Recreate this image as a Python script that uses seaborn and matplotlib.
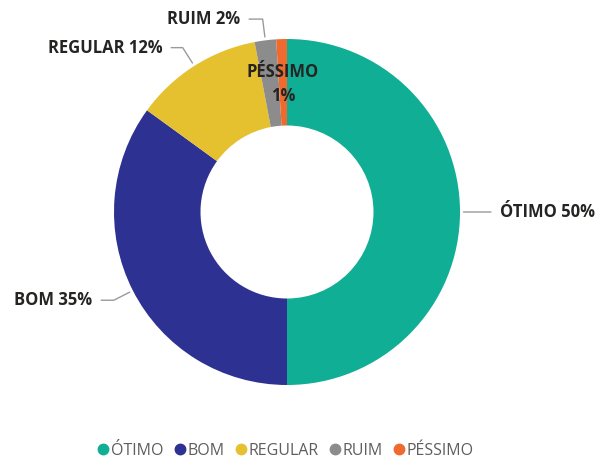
import numpy as np
import matplotlib
matplotlib.use("Agg")
import matplotlib.pyplot as plt
from matplotlib.lines import Line2D
import seaborn as sns

categories = ["ÓTIMO", "BOM", "REGULAR", "RUIM", "PÉSSIMO"]
values = [50, 35, 12, 2, 1]
colors = ["#10AE94", "#2D3192", "#E5C12F", "#8C8C8C", "#EF6A2E"]

sns.set_theme(style="white")
plt.rcParams["font.family"] = ["Open Sans", "DejaVu Sans"]

W, H = 599, 459
cx, cy, R = 287, 212, 173  # pixel centre and radius of the ring

fig = plt.figure(figsize=(W / 100, H / 100), dpi=100)
ax = fig.add_axes([0, 0, 1, 1])
ax.pie(values, colors=sns.color_palette(colors), startangle=90, counterclock=False,
       radius=1.0, wedgeprops=dict(width=0.5, linewidth=0))
ax.set_xlim(-cx / R, (W - cx) / R)
ax.set_ylim(-(H - cy) / R, cy / R)
ax.set_aspect("equal")
ax.axis("off")

# label text anchors (in ring-radius units) and side
label_pos = {
    "ÓTIMO": (1.23, 0.0, "left"),
    "BOM": (-1.125, -0.51, "right"),
    "REGULAR": (-0.72, 0.95, "right"),
    "RUIM": (-0.27, 1.115, "right"),
}
txt_color = "#252423"
cum = np.cumsum([0] + values[:-1])
total = sum(values)
for cat, v, c0 in zip(categories, values, cum):
    ang = np.deg2rad(90 - (c0 + v / 2) / total * 360)
    px, py = np.cos(ang), np.sin(ang)
    if cat in label_pos:
        tx, ty, ha = label_pos[cat]
        if abs(np.sin(ang)) < 0.05:
            cstyle = "arc3"
        else:
            cstyle = f"angle,angleA=0,angleB={np.rad2deg(ang):.1f},rad=0"
        ax.annotate(f"{cat} {v}%", xy=(px * 1.02, py * 1.02), xytext=(tx, ty),
                    ha=ha, va="center", fontsize=12, fontweight="bold", color=txt_color,
                    arrowprops=dict(arrowstyle="-", color="#9a9a9a", lw=1,
                                    shrinkA=4, shrinkB=0, connectionstyle=cstyle))
    else:
        ax.text(px * 0.74, py * 0.74, f"{cat}\n{v}%", ha="center", va="center",
                fontsize=12, fontweight="bold", color=txt_color, linespacing=1.45)

handles = [Line2D([0], [0], marker="o", linestyle="", markersize=7.5,
                  markerfacecolor=c, markeredgecolor=c) for c in colors]
fig.legend(handles, categories, loc="center", bbox_to_anchor=(0.475, 0.018), ncol=5,
           frameon=False, fontsize=11.5, handletextpad=0.0, columnspacing=0.5,
           handlelength=1.0, labelcolor="#605E5C")

fig.savefig("out.png", dpi=100)
